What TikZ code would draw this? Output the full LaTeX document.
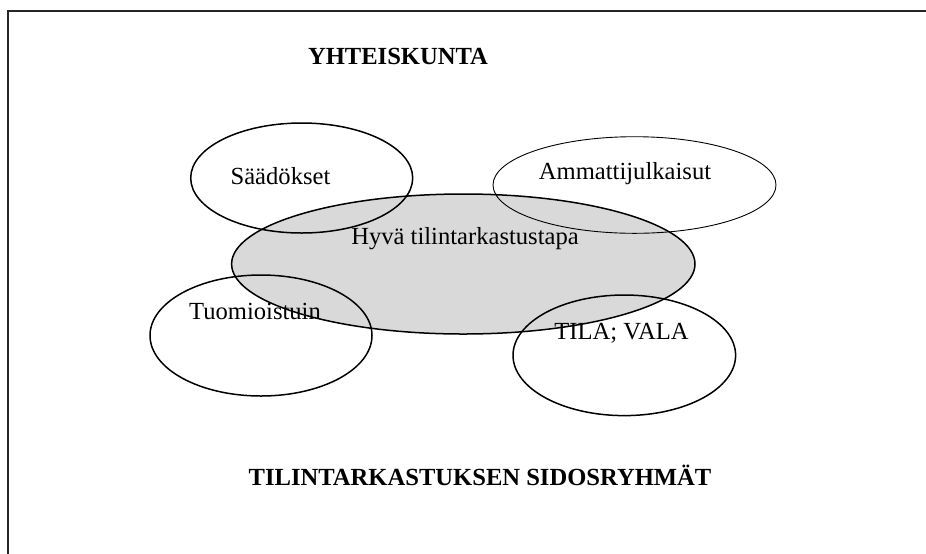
\documentclass[tikz,border=0pt]{standalone}
\usepackage{fontspec}
\setmainfont{Liberation Serif}
\newfontfamily\timesfont{Liberation Serif}
\usetikzlibrary{shapes.geometric}

\tikzset{
  txt/.style={font=\timesfont\fontsize{12.3pt}{14pt}\selectfont, inner sep=0pt, anchor=base},
  head/.style={txt, font=\timesfont\bfseries\fontsize{12.3pt}{14pt}\selectfont},
  oval/.style={draw=black, ellipse, inner sep=0pt, line width=0.75pt},
  thinoval/.style={oval, line width=0.45pt},
  core/.style={oval, fill=black!15}
}

\begin{document}
\rmfamily
\begin{tikzpicture}[x=0.5pt, y=-0.5pt]
  \useasboundingbox (0,0) rectangle (926,553);
  \fill[white] (0,0) rectangle (926,553);

  % outer frame (top and left edges)
  \draw[line width=1pt, black!85] (8,560) -- (8,11) -- (930,11);

  % central shaded area
  \node[core, minimum width=231.7pt, minimum height=70pt] (hyva) at (463.3,264) {};

  % surrounding groups
  \node[oval, minimum width=111pt, minimum height=55pt] (saad) at (301.7,178) {};
  \node[thinoval, minimum width=141.5pt, minimum height=48.3pt] (ammatti) at (634.5,185) {};
  \node[oval, minimum width=111pt, minimum height=60.5pt] (tuom) at (261,335.5) {};
  \node[oval, minimum width=111.3pt, minimum height=60.3pt] (tila) at (624.3,355.3) {};

  % labels
  \node[head] (yht) at (398,64) {YHTEISKUNTA};
  \node[head] (sidos) at (480,485) {TILINTARKASTUKSEN SIDOSRYHMÄT};
  \node[txt] (thyva) at (465,244.3) {Hyvä tilintarkastustapa};
  \node[txt] (tsaad) at (280.5,184) {Säädökset};
  \node[txt] (tammatti) at (625,179.3) {Ammattijulkaisut};
  \node[txt] (ttuom) at (255,319) {Tuomioistuin};
  \node[txt] (ttila) at (621.5,339) {TILA; VALA};
\end{tikzpicture}
\end{document}
